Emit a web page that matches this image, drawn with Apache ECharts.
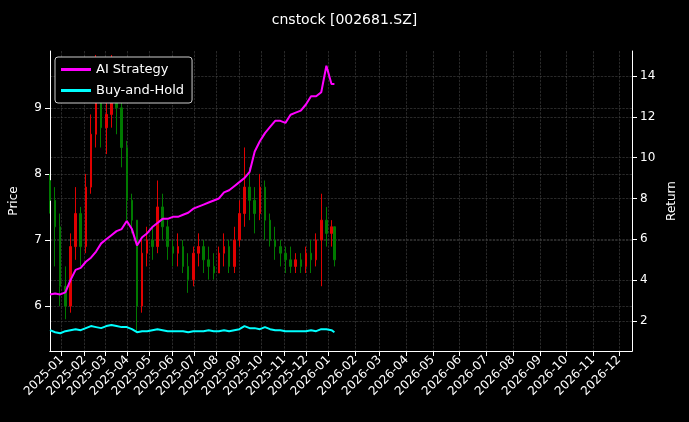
<!DOCTYPE html>
<html><head><meta charset="utf-8">
<script src="https://cdn.jsdelivr.net/npm/echarts@6/dist/echarts.min.js"></script>
<style>html,body{margin:0;background:#000}#c{width:689px;height:422px}</style>
</head><body><div id="c"></div>
<script>
const dates=['2024-12-16','2024-12-23','2024-12-30','2025-01-06','2025-01-13','2025-01-20','2025-01-27','2025-02-03','2025-02-10','2025-02-17','2025-02-24','2025-03-03','2025-03-10','2025-03-17','2025-03-24','2025-03-31','2025-04-07','2025-04-14','2025-04-21','2025-04-28','2025-05-05','2025-05-12','2025-05-19','2025-05-26','2025-06-02','2025-06-09','2025-06-16','2025-06-23','2025-06-30','2025-07-07','2025-07-14','2025-07-21','2025-07-28','2025-08-04','2025-08-11','2025-08-18','2025-08-25','2025-09-01','2025-09-08','2025-09-15','2025-09-22','2025-09-29','2025-10-06','2025-10-13','2025-10-20','2025-10-27','2025-11-03','2025-11-10','2025-11-17','2025-11-24','2025-12-01','2025-12-08','2025-12-15','2025-12-22','2025-12-29','2026-01-05','2026-01-09'];
const openP=[7.9,7.6,7.2,6.3,6.0,6.9,7.4,6.9,7.8,8.6,9.3,8.7,8.9,9.4,9.0,8.4,7.6,7.3,6.0,6.8,7.0,6.9,7.5,7.2,6.9,6.8,6.9,6.6,6.4,6.8,6.9,6.7,6.6,6.5,6.8,6.9,6.6,7.0,7.4,7.8,7.6,7.4,7.8,7.3,7.0,6.9,6.8,6.7,6.6,6.7,6.6,6.8,6.7,7.0,7.3,7.1,7.2];
const closeP=[7.6,7.2,6.3,6.0,6.9,7.4,6.9,7.8,8.6,9.3,8.7,8.9,9.4,9.0,8.4,7.6,7.3,6.0,6.8,7.0,6.9,7.5,7.2,6.9,6.8,6.9,6.6,6.4,6.8,6.9,6.7,6.6,6.5,6.8,6.9,6.6,7.0,7.4,7.8,7.6,7.4,7.8,7.3,7.0,6.9,6.8,6.7,6.6,6.7,6.6,6.8,6.7,7.0,7.3,7.1,7.2,6.7];
const lowP=[7.4,6.6,6.0,5.8,5.9,6.7,6.6,6.8,7.7,8.4,8.4,8.3,8.7,8.6,8.1,7.3,7.1,5.6,5.9,6.6,6.7,6.8,7.0,6.7,6.6,6.6,6.5,6.2,6.3,6.6,6.5,6.4,6.4,6.5,6.6,6.5,6.5,6.9,7.2,7.3,7.1,7.3,7.0,6.9,6.7,6.6,6.5,6.5,6.5,6.5,6.5,6.5,6.6,6.3,6.9,6.9,6.6];
const highP=[8.0,7.8,7.4,6.6,7.1,7.8,7.5,8.0,8.9,9.8,9.6,9.2,9.8,9.7,9.1,8.5,7.7,7.3,7.0,7.2,7.2,7.9,7.7,7.3,7.0,7.1,7.0,6.8,6.9,7.1,7.0,6.9,6.8,6.9,7.1,7.0,7.2,7.6,8.4,8.1,7.8,8.0,7.9,7.4,7.2,7.0,6.9,6.9,6.8,6.8,6.9,7.0,7.1,7.7,7.5,7.3,7.2];
const strategy=[3.3,3.35,3.3,3.4,4.0,4.5,4.6,4.9,5.1,5.4,5.8,6.0,6.2,6.4,6.5,6.9,6.5,5.7,6.1,6.3,6.6,6.8,7.0,7.0,7.1,7.1,7.2,7.3,7.5,7.6,7.7,7.8,7.9,8.0,8.3,8.4,8.6,8.8,9.0,9.3,10.3,10.8,11.2,11.5,11.8,11.8,11.7,12.1,12.2,12.3,12.6,13.0,13.0,13.2,14.5,13.6,13.6];
const buyHold=[1.55,1.45,1.4,1.5,1.55,1.6,1.55,1.65,1.75,1.7,1.65,1.75,1.8,1.75,1.7,1.7,1.6,1.45,1.5,1.5,1.55,1.6,1.55,1.5,1.5,1.5,1.5,1.45,1.5,1.5,1.5,1.55,1.5,1.5,1.55,1.5,1.55,1.6,1.75,1.65,1.65,1.6,1.7,1.6,1.55,1.55,1.5,1.5,1.5,1.5,1.5,1.55,1.5,1.6,1.6,1.55,1.45];
const monthTicksA=['2025-01-01','2025-02-01','2025-03-01','2025-04-01','2025-05-01','2025-06-01','2025-07-01','2025-08-01','2025-09-01','2025-10-01','2025-11-01','2025-12-01','2026-01-01'];
const monthTicksB=['2026-02-01','2026-03-01','2026-04-01','2026-05-01','2026-06-01','2026-07-01','2026-08-01','2026-09-01','2026-10-01','2026-11-01','2026-12-01'];
const priceTicks=[6,7,8,9];
const returnTicks=[2,4,6,8,10,12,14];

const ts=s=>Date.UTC(+s.slice(0,4),+s.slice(5,7)-1,+s.slice(8,10));
const candles=dates.map((d,i)=>[ts(d),openP[i],closeP[i],lowP[i],highP[i]]);
const grid={type:'dashed',color:'#444',width:0.6};
const fmt=v=>{const d=new Date(v);return d.getUTCFullYear()+'-'+String(d.getUTCMonth()+1).padStart(2,'0');};
const mkX=(min,max,ticks)=>({type:'value',position:'bottom',offset:0,min:ts(min),max:ts(max),
    axisLine:{lineStyle:{color:'#fff'}},axisTick:{show:true,lineStyle:{color:'#fff'},customValues:ticks.map(ts)},
    axisLabel:{color:'#fff',rotate:45,fontSize:12,margin:7,formatter:fmt,customValues:ticks.map(ts)},
    splitLine:{show:true,lineStyle:grid}});
const chart=echarts.init(document.getElementById('c'));
chart.setOption({
  backgroundColor:'#000',animation:false,
  textStyle:{fontFamily:'DejaVu Sans'},
  title:{text:'cnstock [002681.SZ]',left:'center',top:8,textStyle:{color:'#fff',fontSize:14,fontWeight:'normal'}},
  legend:{left:55,top:57,orient:'vertical',backgroundColor:'#000',borderColor:'#ccc',borderWidth:1,borderRadius:3,padding:[6,8,6,6],itemGap:8,itemWidth:30,itemHeight:3,
    textStyle:{color:'#fff',fontSize:13},data:[{name:'AI Strategy',icon:'rect'},{name:'Buy-and-Hold',icon:'rect'}]},
  grid:{left:49,right:57,top:51,bottom:71},
  xAxis:[mkX('2024-12-16','2027-02-20',monthTicksA),mkX('2025-02-15','2026-12-16',monthTicksB)],
  yAxis:[
    {type:'value',min:5.32,max:9.86,name:'Price',nameLocation:'middle',nameGap:30,nameTextStyle:{color:'#fff',fontSize:12},
      axisLine:{show:true,lineStyle:{color:'#fff'}},axisTick:{show:true,customValues:priceTicks},
      axisLabel:{color:'#fff',fontSize:12,customValues:priceTicks},splitLine:{show:true,lineStyle:grid}},
    {type:'value',min:0.53,max:15.22,name:'Return',nameLocation:'middle',nameGap:32,nameTextStyle:{color:'#fff',fontSize:12},
      axisLine:{show:true,lineStyle:{color:'#fff'}},axisTick:{show:true,customValues:returnTicks},
      axisLabel:{color:'#fff',fontSize:12,customValues:returnTicks},splitLine:{show:true,lineStyle:grid}}
  ],
  series:[
    {type:'candlestick',name:'Price',xAxisIndex:0,yAxisIndex:0,data:candles,barMaxWidth:2,
      itemStyle:{color:'#e00000',color0:'#007a00',borderColor:'#e00000',borderColor0:'#007a00',borderWidth:1}},
    {type:'line',name:'AI Strategy',xAxisIndex:0,yAxisIndex:1,data:dates.map((d,i)=>[ts(d),strategy[i]]),showSymbol:false,color:'#ff00ff',lineStyle:{width:2}},
    {type:'line',name:'Buy-and-Hold',xAxisIndex:0,yAxisIndex:1,data:dates.map((d,i)=>[ts(d),buyHold[i]]),showSymbol:false,color:'#00ffff',lineStyle:{width:2}}
  ]
});
</script></body></html>
